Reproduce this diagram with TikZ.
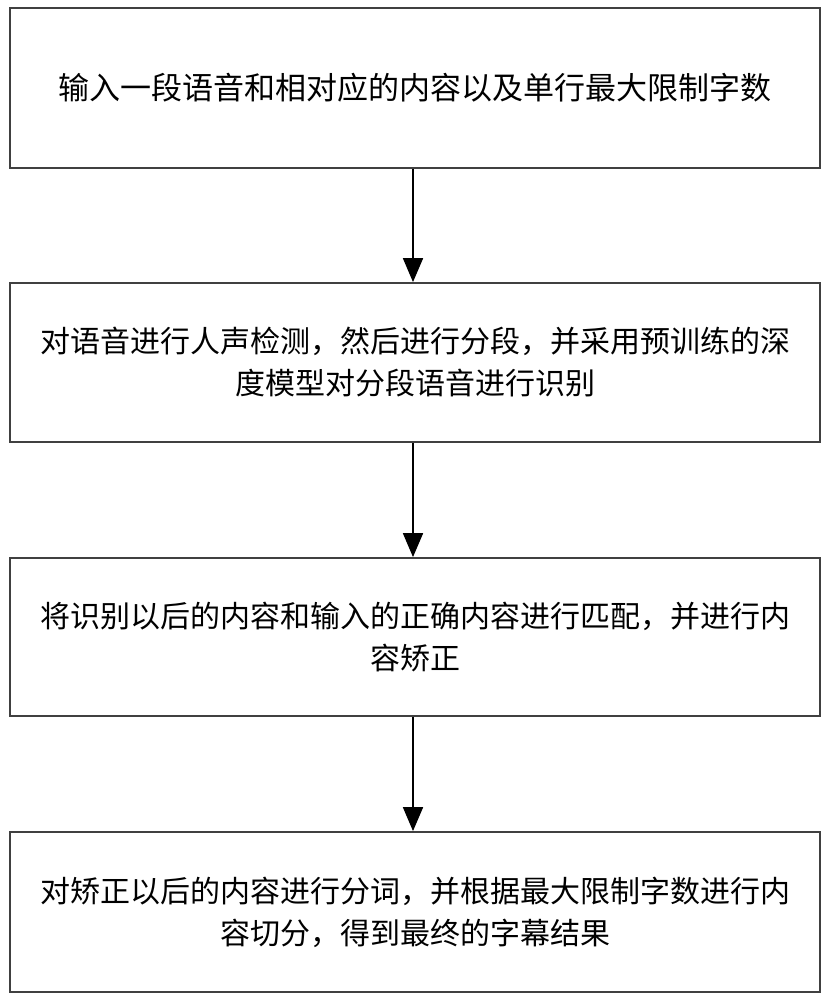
\documentclass[tikz,border=0pt]{standalone}
\usepackage{fontspec}
\setmainfont{Noto Sans CJK SC}
\usetikzlibrary{arrows.meta}
\begin{document}
\begin{tikzpicture}[x=1pt,y=-1pt,
  stepbox/.style={draw=black!75,line width=1.8pt,minimum width=810pt,align=center,font=\fontsize{30}{42}\selectfont,inner sep=0pt},
  conn/.style={line width=1.8pt,-{Triangle[length=24pt,width=20pt]}}]
\useasboundingbox (0,0) rectangle (827,1000);
\node[stepbox,minimum height=160pt] (a) at (415,88) {\fontsize{31}{42}\selectfont 输入一段语音和相对应的内容以及单行最大限制字数};
\node[stepbox,minimum height=159pt] (b) at (415,362.5) {对语音进行人声检测，然后进行分段，并采用预训练的深\\度模型对分段语音进行识别};
\node[stepbox,minimum height=158pt] (c) at (415,637) {将识别以后的内容和输入的正确内容进行匹配，并进行内\\容矫正};
\node[stepbox,minimum height=160pt] (d) at (415,912) {对矫正以后的内容进行分词，并根据最大限制字数进行内\\容切分，得到最终的字幕结果};
\draw[conn] (a.south -| 413,0) -- (b.north -| 413,0);
\draw[conn] (b.south -| 413,0) -- (c.north -| 413,0);
\draw[conn] (c.south -| 413,0) -- (d.north -| 413,0);
\end{tikzpicture}
\end{document}
